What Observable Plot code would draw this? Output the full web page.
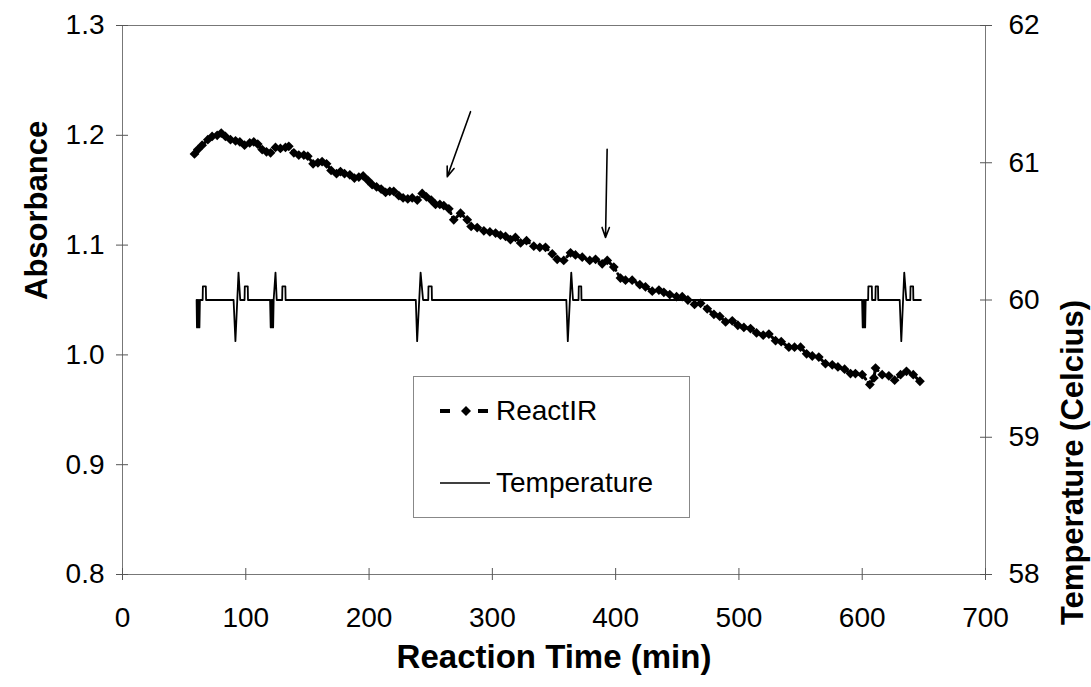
<!DOCTYPE html>
<html>
<head>
<meta charset="utf-8">
<script src="https://cdn.jsdelivr.net/npm/d3@7"></script>
<script src="https://cdn.jsdelivr.net/npm/@observablehq/plot@0.6"></script>
<style>
  body { margin: 0; background: #fff; font-family: "Liberation Sans", Arial, sans-serif; }
  #wrap { position: relative; width: 1091px; height: 687px; }
  #legend { position: absolute; left: 413px; top: 376px; width: 277px; height: 142px;
            border: 1px solid #888; box-sizing: border-box; background: #fff; }
  .lg-row { position: absolute; left: 26px; display: flex; align-items: center; font-size: 28px; color: #000; }
  .lg-row svg { margin-right: 6px; }
</style>
</head>
<body>
<div id="wrap"></div>
<script>
// ---- ReactIR absorbance series (time in min, absorbance) ----
const irTime = [58.4,61.1,64.6,69.2,72.7,76.8,80.1,83.5,87.6,91.7,95.2,99,103.2,106.5,109.7,113.3,116.8,120.1,124.1,128.1,132.2,134.9,139,143,147.1,150.3,154.6,158.5,161.9,165.5,169.2,173.6,176.8,180.1,184.4,188.1,191.7,195.2,199,202.5,206.1,209.8,213.4,216.8,220,224.1,227.6,231.4,235,239.1,243.1,246.5,250.4,253.9,257.4,260.6,264.7,268.7,274.2,279.6,
  282.8,287.7,293.1,298,302.6,306.6,310.7,314.7,318.7,322.9,327.7,333.6,338.5,343.1,348.6,352.6,357.9,363.4,367.4,372.9,379,383.7,389.1,393.2,398.5,403.9,408,413.4,419.6,424.2,429.7,435.1,439.1,443.9,449.4,
  454,458.6,464,468.9,474.3,479.7,484.5,489.2,494.6,499.1,504,509.4,514.3,519.7,524.3,529.7,534.3,540.5,545.1,550,554.9,559.5,564.8,570.2,575.7,580.3,585.7,590.5,594.5,600,606.2,609.5,610.8,616.2,621.6,626.3,631.1,635.9,641.4,646.8];
const irAbs = [1.183,1.187,1.191,1.196,1.199,1.200,1.202,1.199,1.196,1.195,1.194,1.191,1.193,1.194,1.192,1.187,1.185,1.184,1.189,1.188,1.189,1.190,1.184,1.182,1.182,1.181,1.174,1.175,1.176,1.174,1.168,1.165,1.167,1.165,1.164,1.161,1.162,1.163,1.159,1.155,1.153,1.151,1.148,1.149,1.149,1.145,1.143,1.142,1.143,1.141,1.147,1.144,1.141,1.137,1.137,1.136,1.133,1.123,1.129,1.123,
  1.117,1.116,1.113,1.112,1.111,1.109,1.108,1.105,1.107,1.102,1.104,1.099,1.098,1.098,1.092,1.087,1.086,1.093,1.091,1.089,1.086,1.087,1.083,1.086,1.080,1.070,1.068,1.068,1.064,1.062,1.058,1.059,1.057,1.055,1.053,
  1.053,1.050,1.046,1.047,1.042,1.037,1.035,1.030,1.031,1.027,1.025,1.024,1.020,1.018,1.019,1.013,1.012,1.007,1.007,1.007,1.001,0.999,0.998,0.992,0.991,0.989,0.987,0.983,0.983,0.982,0.973,0.979,0.988,0.982,0.981,0.977,0.982,0.985,0.982,0.976];

// ---- Temperature series (time in min, degrees Celcius) ----
const tempTime = [60.1,60.4,60.9,61.4,61.9,62.4,62.8,65,65.2,67.6,67.8,
  90.1,91.6,94.1,95.5,99,99.2,101.6,101.8,
  119.7,120.2,120.7,121.2,121.7,122.2,122.6,124.1,125.1,129.5,129.7,132.1,132.3,
  237.9,239,241.8,243.8,248,248.2,250.8,251,
  360,361.2,364,365.4,369.9,370.1,372.1,372.3,
  599.9,600.4,600.9,601.4,601.9,602.4,602.8,604.8,605,607.8,608,610.7,610.9,612.8,613,
  630.4,631.7,634.1,635.8,639,639.2,641.3,641.5,647.6];
const tempValue = [60,59.8,60,59.8,60,59.8,60,60,60.1,60.1,60,
  60,59.7,60.2,60,60,60.1,60.1,60,
  60,59.8,60,59.8,60,59.8,60,60.2,60,60,60.1,60.1,60,
  60,59.7,60.2,60,60,60.1,60.1,60,
  60,59.7,60.2,60,60,60.1,60.1,60,
  60,59.8,60,59.8,60,59.8,60,60,60.1,60.1,60,60,60.1,60.1,60,
  60,59.7,60.2,60,60,60.1,60.1,60,60];

// ---- Axes ----
const xTicks = [0,100,200,300,400,500,600,700];
const absTicks = [0.8,0.9,1.0,1.1,1.2,1.3];
const tempTicks = [58,59,60,61,62];
const absDomain = [0.8,1.3];
const tempDomain = [58,62];

// ---- Annotation arrows (time, absorbance) ----
const arrowTime1 = [282.3, 393.1];
const arrowAbs1 = [1.2215, 1.1873];
const arrowTime2 = [263.4, 391.8];
const arrowAbs2 = [1.1623, 1.1069];

// map temperature onto the absorbance scale (secondary axis)
const tToA = t => absDomain[0] + (t - tempDomain[0]) / (tempDomain[1] - tempDomain[0]) * (absDomain[1] - absDomain[0]);
const aToT = a => tempDomain[0] + (a - absDomain[0]) / (absDomain[1] - absDomain[0]) * (tempDomain[1] - tempDomain[0]);

const ir = irTime.map((t, i) => ({t, a: irAbs[i]}));
const temp = tempTime.map((t, i) => ({t, a: tToA(tempValue[i])}));
const arrows = arrowTime1.map((t, i) => ({x1: t, y1: arrowAbs1[i], x2: arrowTime2[i], y2: arrowAbs2[i]}));

const font = "Liberation Sans, Arial, sans-serif";
const chart = Plot.plot({
  width: 1091, height: 687,
  marginLeft: 122, marginRight: 106, marginTop: 25, marginBottom: 113,
  style: {fontFamily: font, fontSize: "28px", color: "#000", background: "#fff"},
  x: {domain: [0, 700]},
  y: {domain: absDomain},
  marks: [
    Plot.frame({stroke: "#777", strokeWidth: 1}),
    // crossing tick marks
    Plot.axisY(absTicks, {anchor: "left", tickSize: 12, dx: 6, tickFormat: () => "", label: null, stroke: "#555"}),
    Plot.axisY(tempTicks.map(tToA), {anchor: "right", tickSize: 12, dx: -6, tickFormat: () => "", label: null, stroke: "#555"}),
    Plot.axisX(xTicks, {anchor: "bottom", tickSize: 12, dy: -6, tickFormat: () => "", label: null, stroke: "#555"}),
    // tick labels
    Plot.axisY(absTicks, {anchor: "left", tickSize: 0, tickPadding: 18, tickFormat: d3.format(".1f"), label: null, fontSize: 28}),
    Plot.axisY(tempTicks.map(tToA), {anchor: "right", tickSize: 0, tickPadding: 23, tickFormat: a => String(Math.round(aToT(a))), label: null, fontSize: 28}),
    Plot.axisX(xTicks, {anchor: "bottom", tickSize: 0, tickPadding: 33, tickFormat: d3.format("d"), label: null, fontSize: 28}),
    // axis titles
    Plot.text(["Absorbance"], {frameAnchor: "left", dx: -85, rotate: -90, fontWeight: "bold", fontSize: 31}),
    Plot.text(["Temperature (Celcius)"], {frameAnchor: "right", dx: 88, rotate: -90, fontWeight: "bold", fontSize: 31}),
    Plot.text(["Reaction Time (min)"], {frameAnchor: "bottom", dy: 93, fontWeight: "bold", fontSize: 33}),
    // data
    Plot.line(temp, {x: "t", y: "a", stroke: "#000", strokeWidth: 1.8}),
    Plot.line(ir, {x: "t", y: "a", stroke: "#000", strokeWidth: 3, strokeDasharray: "3,4"}),
    Plot.dot(ir, {x: "t", y: "a", symbol: "diamond2", r: 4.4, fill: "#000", stroke: "none"}),
    // annotations
    Plot.arrow(arrows, {x1: "x1", y1: "y1", x2: "x2", y2: "y2", stroke: "#000", strokeWidth: 1.6, headLength: 10, headAngle: 40})
  ]
});
const wrap = document.getElementById("wrap");
wrap.appendChild(chart);

// legend box (inside the plot)
const legend = document.createElement("div");
legend.id = "legend";
legend.innerHTML = `
  <div class="lg-row" style="top:18px">
    <svg width="50" height="20"><line x1="0" y1="10" x2="10" y2="10" stroke="#000" stroke-width="4"/>
      <path d="M21,10 L26,5 L31,10 L26,15 Z" fill="#000"/>
      <line x1="38" y1="10" x2="48" y2="10" stroke="#000" stroke-width="4"/></svg>ReactIR</div>
  <div class="lg-row" style="top:90px">
    <svg width="50" height="20"><line x1="0" y1="10" x2="50" y2="10" stroke="#000" stroke-width="1.5"/></svg>Temperature</div>`;
wrap.appendChild(legend);
</script>
</body>
</html>
